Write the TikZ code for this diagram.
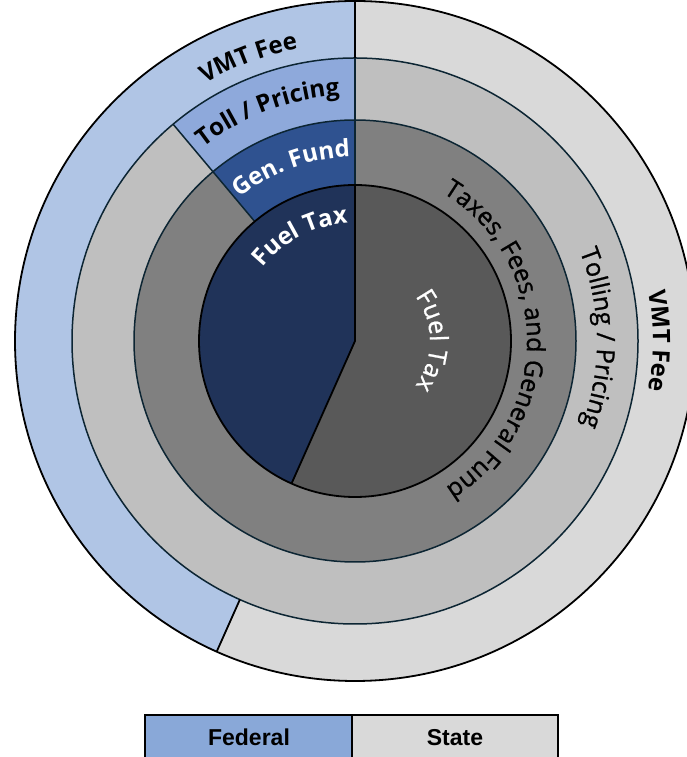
\documentclass[tikz,border=0pt]{standalone}
\usepackage{fontspec}
\usetikzlibrary{decorations.text,calc}
\newfontfamily\chartfont{Open Sans}
\newfontfamily\chartmed{Open Sans}[FakeBold=0.9]
\newfontfamily\legendfont{Liberation Sans}
\definecolor{fedvmt}{HTML}{B0C5E5}
\definecolor{fedtoll}{HTML}{8EA9DB}
\definecolor{fedgen}{HTML}{2F5290}
\definecolor{fedfuel}{HTML}{203359}
\definecolor{stvmt}{HTML}{D9D9D9}
\definecolor{sttoll}{HTML}{BFBFBF}
\definecolor{stgen}{HTML}{808080}
\definecolor{stfuel}{HTML}{595959}
\definecolor{ringline}{HTML}{0C2533}
\definecolor{legfed}{HTML}{89A8D8}
\newcommand\lblfont{\chartfont\fontsize{24}{28}\selectfont}
\newcommand\medfont{\chartmed\fontsize{25}{29}\selectfont}
\newcommand\arctext[5]{\path[decorate,decoration={text along path,text align=center,text={|#4|#5}}] ($(C)+(#1+#3:#2)$) arc[start angle=#1+#3,end angle=#1-#3,radius=#2];}
\begin{document}
\begin{tikzpicture}[x=1pt,y=1pt,
  blackline/.style={draw=black,line width=1.8pt},
  ringl/.style={draw=ringline,line width=1.5pt},
  legendbox/.style={draw=black,line width=2.2pt},
  legendtext/.style={font=\legendfont\bfseries\fontsize{23}{27}\selectfont,anchor=base}]
\useasboundingbox (0,0) rectangle (686,757);
\coordinate (C) at (355,416);
% outer VMT ring
\fill[stvmt] (C) circle[radius=340];
\fill[fedvmt] (C) -- ++(90:340) arc[start angle=90,end angle=246,radius=340] -- cycle;
% toll ring
\fill[sttoll] (C) circle[radius=283];
\fill[fedtoll] (C) -- ++(90:283) arc[start angle=90,end angle=130,radius=283] -- cycle;
% gen fund ring
\fill[stgen] (C) circle[radius=221];
\fill[fedgen] (C) -- ++(90:221) arc[start angle=90,end angle=130,radius=221] -- cycle;
% inner pie
\fill[stfuel] (C) circle[radius=156];
\fill[fedfuel] (C) -- ++(90:156) arc[start angle=90,end angle=246,radius=156] -- cycle;
% boundaries
\draw[ringl] (C) circle[radius=283];
\draw[ringl] (C) circle[radius=221];
\draw[ringl] ($(C)+(90:156)$) -- ($(C)+(90:221)$);
\draw[ringl] ($(C)+(130:156)$) -- ($(C)+(130:221)$);
\draw[ringl] ($(C)+(90:221)$) -- ($(C)+(90:283)$);
\draw[ringl] ($(C)+(130:221)$) -- ($(C)+(130:283)$);
\draw[blackline] ($(C)+(90:283)$) -- ($(C)+(90:340)$);
\draw[blackline] ($(C)+(246:283)$) -- ($(C)+(246:340)$);
\draw[blackline] (C) circle[radius=340];
\draw[blackline] (C) circle[radius=156];
\draw[blackline] ($(C)+(90:156)$) -- (C) -- ($(C)+(246:156)$);
% federal labels
\arctext{110.6}{298}{40}{\lblfont\bfseries}{VMT Fee}
\arctext{110.8}{246}{45}{\lblfont\bfseries}{Toll / Pricing}
\arctext{110.2}{184}{50}{\lblfont\bfseries\color{white}}{Gen. Fund}
\arctext{117.5}{118}{70}{\lblfont\bfseries\color{white}}{Fuel Tax}
% state labels
\arctext{0.5}{172}{85}{\medfont}{Taxes, Fees, and General Fund}
\arctext{0.7}{242}{60}{\medfont}{Tolling / Pricing}
\arctext{0}{298}{40}{\lblfont\bfseries}{VMT Fee}
\arctext{0}{75}{85}{\medfont\color{white}}{Fuel Tax}
% legend
\path[legendbox,fill=legfed] (145,42) rectangle (352,-12);
\path[legendbox,fill=stvmt] (352,42) rectangle (558,-12);
\node[legendtext] (fed) at (249,12) {Federal};
\node[legendtext] (st) at (455,12) {State};
\end{tikzpicture}
\end{document}
